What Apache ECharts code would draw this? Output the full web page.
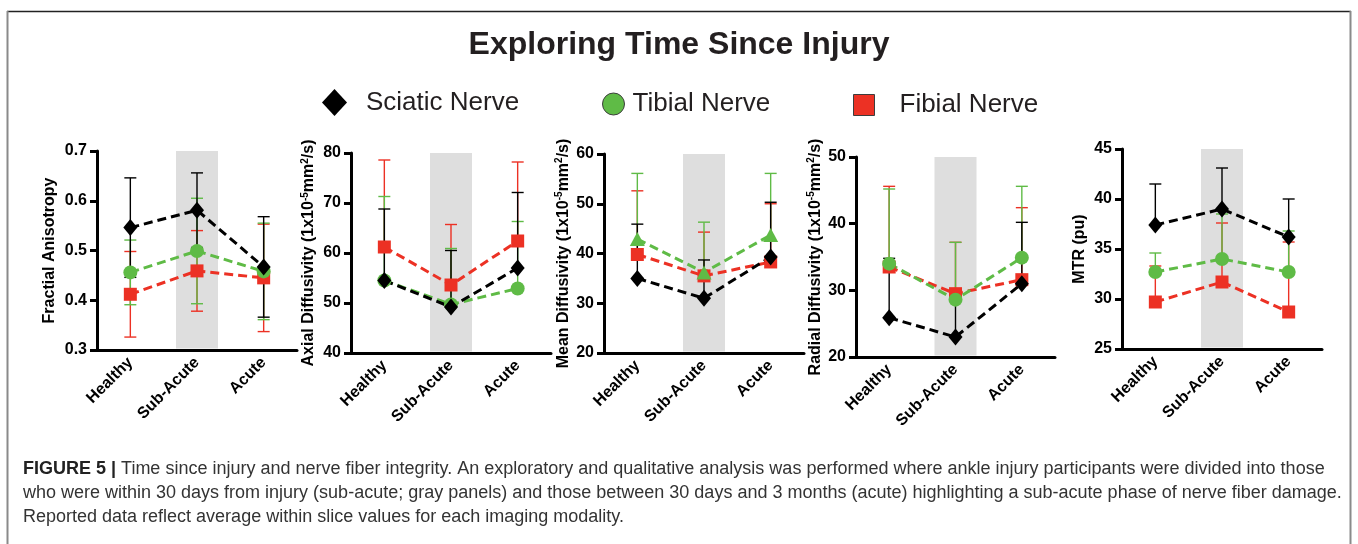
<!DOCTYPE html>
<html>
<head>
<meta charset="utf-8">
<style>
  html, body { margin: 0; padding: 0; background: #fff; }
  #chart { width: 1358px; height: 544px; }
</style>
<script src="https://cdn.jsdelivr.net/npm/echarts@6/dist/echarts.min.js"></script>
</head>
<body>
<div id="chart"></div>
<script>
// Group means and standard deviations for each imaging measure
const categories = ['Healthy', 'Sub-Acute', 'Acute'];
const seriesNames = ['Sciatic Nerve', 'Tibial Nerve', 'Fibial Nerve'];

const faSciatic = [0.546, 0.581, 0.467];
const faSciaticSD = [0.100, 0.075, 0.101];
const faTibial = [0.456, 0.499, 0.458];
const faTibialSD = [0.065, 0.106, 0.097];
const faFibial = [0.412, 0.459, 0.445];
const faFibialSD = [0.086, 0.081, 0.108];

const adSciatic = [54.5, 49.2, 57.0];
const adSciaticSD = [14.3, 11.3, 15.1];
const adTibial = [54.5, 49.7, 52.9];
const adTibialSD = [16.8, 11.2, 13.4];
const adFibial = [61.2, 53.6, 62.4];
const adFibialSD = [17.4, 12.1, 15.8];

const mdSciatic = [35.0, 31.0, 39.3];
const mdSciaticSD = [10.9, 7.7, 11.0];
const mdTibial = [42.9, 36.2, 43.7];
const mdTibialSD = [13.2, 10.1, 12.4];
const mdFibial = [39.8, 35.5, 38.3];
const mdFibialSD = [12.8, 8.8, 11.7];

const rdSciatic = [25.9, 23.0, 31.0];
const rdSciaticSD = [8.9, 6.0, 9.2];
const rdTibial = [34.0, 28.6, 34.9];
const rdTibialSD = [11.2, 8.6, 10.7];
const rdFibial = [33.5, 29.5, 31.6];
const rdFibialSD = [12.1, 7.7, 10.8];

const mtrSciatic = [37.4, 39.0, 36.2];
const mtrSciaticSD = [4.1, 4.1, 3.8];
const mtrTibial = [32.7, 34.0, 32.7];
const mtrTibialSD = [1.9, 4.5, 4.1];
const mtrFibial = [29.7, 31.7, 28.7];
const mtrFibialSD = [3.6, 5.9, 7.0];

// Axis ranges: [min, max, interval]
const faRange = [0.3, 0.7, 0.1];
const adRange = [40, 80, 10];
const mdRange = [20, 60, 10];
const rdRange = [20, 50, 10];
const mtrRange = [25, 45, 5];

const faTicks = ['0.3', '0.4', '0.5', '0.6', '0.7'];

// Sub-acute window highlighted in each panel
const shadedCategory = 'Sub-Acute';

const unitName = (label) =>
  '{n|' + label + ' (1x10}{s|-5}{n|mm}{s|2}{n|/s)}';

const panels = [
  { name: 'Fractial Anisotropy', range: faRange, both: true, greenSymbol: 'circle',
    vals: [faSciatic, faTibial, faFibial], sds: [faSciaticSD, faTibialSD, faFibialSD],
    box: { left: 97, top: 151, width: 200, height: 199 }, gap: 39,
    fmt: (v) => faTicks[Math.round((v - faRange[0]) / faRange[2])] },
  { name: unitName('Axial Diffusivity'), range: adRange, both: false, greenSymbol: 'circle',
    vals: [adSciatic, adTibial, adFibial], sds: [adSciaticSD, adTibialSD, adFibialSD],
    box: { left: 351, top: 153, width: 200, height: 200 }, gap: 33 },
  { name: unitName('Mean Diffusivity'), range: mdRange, both: false, greenSymbol: 'triangle',
    vals: [mdSciatic, mdTibial, mdFibial], sds: [mdSciaticSD, mdTibialSD, mdFibialSD],
    box: { left: 604, top: 154, width: 200, height: 199 }, gap: 31 },
  { name: unitName('Radial Diffusivity'), range: rdRange, both: false, greenSymbol: 'circle',
    vals: [rdSciatic, rdTibial, rdFibial], sds: [rdSciaticSD, rdTibialSD, rdFibialSD],
    box: { left: 856, top: 157, width: 199, height: 200 }, gap: 30 },
  { name: 'MTR (pu)', range: mtrRange, both: false, greenSymbol: 'circle',
    vals: [mtrSciatic, mtrTibial, mtrFibial], sds: [mtrSciaticSD, mtrTibialSD, mtrFibialSD],
    box: { left: 1122, top: 149, width: 200, height: 200 }, gap: 34 }
];

const BLACK = '#000000';
const GREEN = '#5fbb46';
const RED = '#ec3124';
const colors = [BLACK, GREEN, RED];
const FONT = '"Liberation Sans", Arial, Helvetica, sans-serif';

const grids = [];
const xAxes = [];
const yAxes = [];
const series = [];

function errorBars(p, k, gi) {
  const means = p.vals[k];
  const sds = p.sds[k];
  return {
    type: 'custom',
    name: seriesNames[k],
    xAxisIndex: gi,
    yAxisIndex: gi,
    z: 2,
    silent: true,
    data: means.map((m, i) => [i, m, sds[i]]),
    renderItem: function (params, api) {
      const i = api.value(0), m = api.value(1), sd = api.value(2);
      const top = api.coord([i, m + sd]);
      const mid = api.coord([i, m]);
      const bot = p.both ? api.coord([i, m - sd]) : mid;
      const half = 6;
      const st = { stroke: colors[k], lineWidth: 1.4 };
      const children = [
        { type: 'line', shape: { x1: top[0], y1: top[1], x2: bot[0], y2: bot[1] }, style: st },
        { type: 'line', shape: { x1: top[0] - half, y1: top[1], x2: top[0] + half, y2: top[1] }, style: st }
      ];
      if (p.both) {
        children.push({ type: 'line', shape: { x1: bot[0] - half, y1: bot[1], x2: bot[0] + half, y2: bot[1] }, style: st });
      }
      return { type: 'group', children: children };
    }
  };
}

panels.forEach((p, gi) => {
  const [ymin, ymax, step] = p.range;
  grids.push(Object.assign({ containLabel: false }, p.box));
  xAxes.push({
    type: 'category',
    gridIndex: gi,
    data: categories,
    boundaryGap: true,
    axisLine: { lineStyle: { color: '#000', width: 3 } },
    axisTick: { alignWithLabel: true, length: 7, lineStyle: { color: '#000', width: 3 } },
    axisLabel: { rotate: 45, margin: 10, color: '#000', fontSize: 16, fontWeight: 'bold', fontFamily: FONT, interval: 0 },
    splitLine: { show: false }
  });
  yAxes.push({
    type: 'value',
    gridIndex: gi,
    min: ymin,
    max: ymax,
    interval: step,
    name: p.name,
    nameLocation: 'middle',
    nameGap: p.gap,
    nameTextStyle: {
      color: '#000', fontSize: 16, fontWeight: 'bold', fontFamily: FONT,
      rich: {
        n: { fontSize: 16, fontWeight: 'bold', fontFamily: FONT, color: '#000', lineHeight: 18 },
        s: { fontSize: 10, fontWeight: 'bold', fontFamily: FONT, color: '#000', lineHeight: 18, verticalAlign: 'top', padding: [0, 0, 8, 0] }
      }
    },
    axisLine: { show: true, lineStyle: { color: '#000', width: 3 } },
    axisTick: { show: true, length: 7, lineStyle: { color: '#000', width: 3 } },
    axisLabel: {
      color: '#000', fontSize: 16, fontWeight: 'bold', fontFamily: FONT, margin: 10,
      formatter: p.fmt ? p.fmt : (v) => String(v)
    },
    splitLine: { show: false }
  });

  // gray highlight behind the sub-acute group
  series.push({
    type: 'custom',
    xAxisIndex: gi,
    yAxisIndex: gi,
    z: 1,
    silent: true,
    data: [[categories.indexOf(shadedCategory)]],
    renderItem: function (params, api) {
      const idx = api.value(0);
      const a = api.coord([idx, ymax]);
      const b = api.coord([idx, ymin]);
      return {
        type: 'rect',
        shape: { x: a[0] - 21, y: a[1], width: 42, height: b[1] - a[1] - 1.5 },
        style: { fill: '#dedede' }
      };
    }
  });

  // error bars, then dashed mean lines drawn fibial -> tibial -> sciatic
  [2, 1, 0].forEach((k) => series.push(errorBars(p, k, gi)));

  const symbols = ['diamond', p.greenSymbol, 'rect'];
  const sizes = [[14, 17], p.greenSymbol === 'triangle' ? [15, 14] : 14, 13];
  [2, 1, 0].forEach((k) => {
    series.push({
      type: 'line',
      name: seriesNames[k],
      xAxisIndex: gi,
      yAxisIndex: gi,
      z: 3,
      data: p.vals[k],
      symbol: symbols[k],
      symbolSize: sizes[k],
      showSymbol: true,
      itemStyle: { color: colors[k], opacity: 1 },
      lineStyle: { color: colors[k], width: 3, type: [9, 5] },
      emphasis: { disabled: true },
      animation: false
    });
  });
});

const legendText = { fontSize: 26, color: '#231f20', fontFamily: FONT };
const captionFont = '18px ' + FONT;

const option = {
  backgroundColor: '#ffffff',
  animation: false,
  title: {
    text: 'Exploring Time Since Injury',
    left: 'center',
    top: 24,
    textStyle: { fontSize: 32, fontWeight: 'bold', color: '#231f20', fontFamily: FONT }
  },
  legend: [
    { left: 317, top: 84, itemWidth: 25, itemHeight: 27, selectedMode: false,
      data: [{ name: 'Sciatic Nerve', icon: 'diamond', itemStyle: { color: BLACK } }],
      textStyle: Object.assign({ padding: [0, 0, 0, 14] }, legendText) },
    { left: 597, top: 86, itemWidth: 22, itemHeight: 22, selectedMode: false,
      data: [{ name: 'Tibial Nerve', icon: 'circle', itemStyle: { color: GREEN, borderColor: '#3d3d3d', borderWidth: 1 } }],
      textStyle: Object.assign({ padding: [0, 0, 0, 3] }, legendText) },
    { left: 848, top: 87, itemWidth: 21, itemHeight: 21, selectedMode: false,
      data: [{ name: 'Fibial Nerve', icon: 'rect', itemStyle: { color: RED, borderColor: '#3d3d3d', borderWidth: 1 } }],
      textStyle: Object.assign({ padding: [0, 0, 0, 20] }, legendText) }
  ],
  grid: grids,
  xAxis: xAxes,
  yAxis: yAxes,
  series: series,
  graphic: [
    { type: 'line', shape: { x1: 7, y1: 11.5, x2: 1351, y2: 11.5 }, style: { stroke: '#222', lineWidth: 1.5 }, silent: true },
    { type: 'line', shape: { x1: 7.5, y1: 11, x2: 7.5, y2: 544 }, style: { stroke: '#8a8a8a', lineWidth: 2 }, silent: true },
    { type: 'line', shape: { x1: 1350.5, y1: 11, x2: 1350.5, y2: 544 }, style: { stroke: '#8a8a8a', lineWidth: 2 }, silent: true },
    { type: 'text', left: 23, top: 460, silent: true,
      style: {
        text: '{b|FIGURE 5 |} Time since injury and nerve fiber integrity. An exploratory and qualitative analysis was performed where ankle injury participants were divided into those',
        font: captionFont, fill: '#333',
        rich: { b: { fontWeight: 'bold', fontSize: 18, fontFamily: FONT, fill: '#222' } }
      } },
    { type: 'text', left: 23, top: 484, silent: true,
      style: {
        text: 'who were within 30 days from injury (sub-acute; gray panels) and those between 30 days and 3 months (acute) highlighting a sub-acute phase of nerve fiber damage.',
        font: captionFont, fill: '#333'
      } },
    { type: 'text', left: 23, top: 508, silent: true,
      style: {
        text: 'Reported data reflect average within slice values for each imaging modality.',
        font: captionFont, fill: '#333'
      } }
  ]
};

const chart = echarts.init(document.getElementById('chart'), null, { renderer: 'canvas' });
chart.setOption(option);
</script>
</body>
</html>
